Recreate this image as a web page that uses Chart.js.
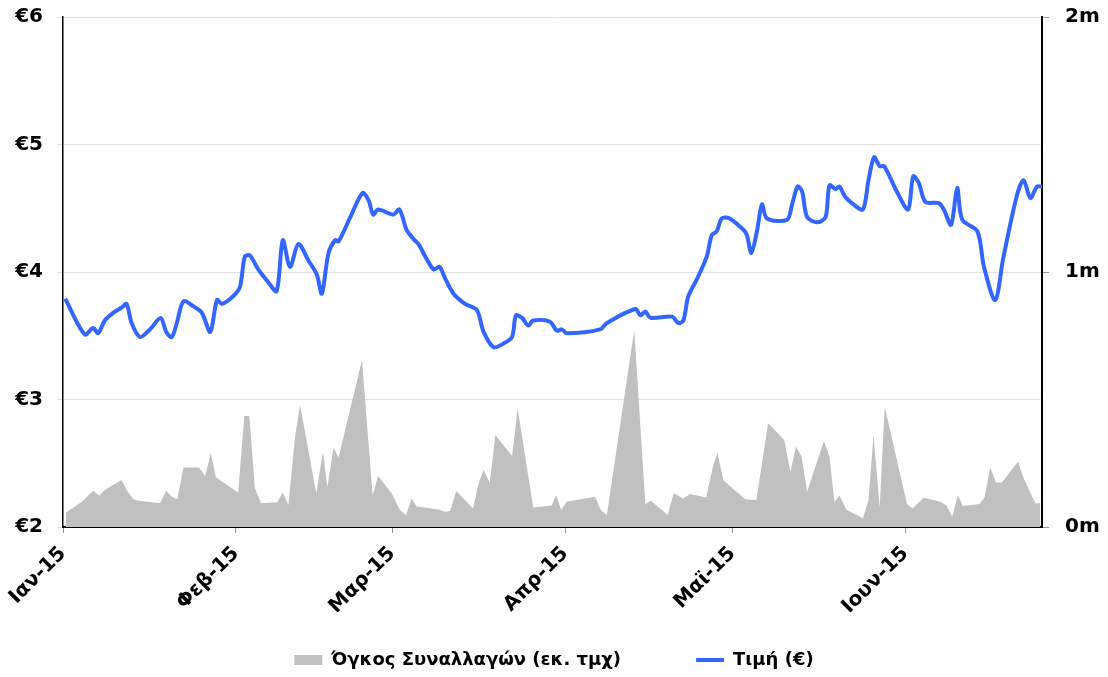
<!DOCTYPE html>
<html>
<head>
<meta charset="utf-8">
<style>
  html, body { margin: 0; padding: 0; background: #fff; }
</style>
</head>
<body>
<canvas id="chart" width="1108" height="677"></canvas>

<script src="https://cdn.jsdelivr.net/npm/chart.js"></script>
<script>

    // x values are days since 1 Jan 2015
    const monthDays = [0, 31, 59, 90, 120, 151];
    const monthLabels = ['Ιαν-15', 'Φεβ-15', 'Μαρ-15', 'Απρ-15', 'Μαϊ-15', 'Ιουν-15'];

    const priceDays = [0.4, 3.9, 5.4, 6.3, 7.5, 9.0, 10.5, 11.4, 12.3, 13.8, 15.6, 17.5, 18.5, 19.5, 20.4, 21.6, 23.4, 24.9, 26.4, 27.6,
        28.5, 30.5, 31.7, 32.6, 33.5, 35.0, 36.8, 38.3, 39.4, 40.7, 42.2, 44.0, 45.5, 46.4, 47.6, 48.8, 49.4, 51.5, 53.7, 54.8,
        55.6, 56.5, 59.2, 60.3, 61.6, 62.8, 63.7, 66.4, 67.5, 68.5, 70.0, 72.1, 74.2, 75.4, 77.2, 79.0, 80.5, 81.2, 82.3, 83.4,
        84.3, 87.3, 88.5, 89.4, 90.3, 96.3, 97.5, 102.6, 103.5, 104.4, 105.3, 109.2, 110.3, 111.2, 112.1, 113.6, 115.4, 116.3, 117.2, 118.1,
        119.5, 122.0, 122.6, 123.4, 124.4, 125.3, 126.2, 129.8, 130.7, 131.7, 132.5, 133.4, 135.2, 136.7, 137.4, 138.5, 139.2, 140.2, 141.7, 143.4,
        144.4, 145.4, 146.4, 147.2, 149.5, 151.5, 152.4, 153.4, 154.6, 157.0, 157.9, 159.2, 160.3, 161.2, 163.9, 165.1, 167.1, 168.6, 171.0, 172.2,
        173.4, 174.6, 175.5];
    const priceValues = [3.79, 3.51, 3.56, 3.52, 3.62, 3.68, 3.72, 3.75, 3.60, 3.49, 3.55, 3.64, 3.53, 3.49, 3.60, 3.77, 3.73, 3.68, 3.53, 3.78,
        3.75, 3.81, 3.88, 4.12, 4.13, 4.02, 3.92, 3.85, 4.25, 4.04, 4.22, 4.09, 3.98, 3.83, 4.15, 4.25, 4.24, 4.43, 4.62, 4.56,
        4.45, 4.49, 4.45, 4.49, 4.33, 4.26, 4.22, 4.02, 4.04, 3.95, 3.83, 3.75, 3.70, 3.53, 3.41, 3.44, 3.49, 3.66, 3.64, 3.58,
        3.62, 3.61, 3.54, 3.55, 3.52, 3.55, 3.60, 3.71, 3.66, 3.69, 3.64, 3.65, 3.60, 3.62, 3.81, 3.94, 4.12, 4.29, 4.32, 4.42,
        4.42, 4.33, 4.29, 4.15, 4.32, 4.53, 4.42, 4.41, 4.53, 4.67, 4.63, 4.43, 4.39, 4.43, 4.68, 4.65, 4.67, 4.59, 4.53, 4.49,
        4.72, 4.90, 4.83, 4.83, 4.63, 4.49, 4.75, 4.70, 4.55, 4.54, 4.49, 4.37, 4.66, 4.41, 4.32, 4.04, 3.78, 4.12, 4.60, 4.72,
        4.58, 4.67, 4.67];

    // volume in millions of shares
    const volumeDays = [0.5, 3.4, 5.4, 6.5, 7.5, 10.5, 11.4, 12.6, 13.5, 17.4, 18.5, 19.5, 20.5, 21.6, 24.4, 25.5, 26.5, 27.4, 28.5, 31.4,
        32.5, 33.4, 34.4, 35.5, 38.4, 39.4, 40.4, 41.6, 42.5, 45.4, 46.6, 47.4, 48.5, 49.4, 53.6, 55.5, 56.5, 58.9, 60.4, 61.5,
        62.5, 63.4, 67.3, 68.5, 69.4, 70.5, 73.5, 74.5, 75.4, 76.5, 77.5, 80.5, 81.5, 84.3, 87.6, 88.4, 89.3, 90.3, 95.4, 96.4,
        97.5, 102.4, 104.4, 105.4, 108.4, 109.5, 111.2, 112.4, 115.3, 116.5, 117.3, 118.4, 122.3, 124.3, 126.4, 129.3, 130.4, 131.4, 132.4, 133.4,
        136.4, 137.4, 138.3, 139.2, 140.4, 143.4, 144.4, 145.3, 146.4, 147.3, 151.3, 152.3, 154.3, 157.3, 158.4, 159.4, 160.4, 161.3, 164.3, 165.2,
        166.2, 167.3, 168.3, 171.2, 172.2, 174.3, 175.2];
    const volumeValues = [0.056, 0.099, 0.142, 0.123, 0.145, 0.184, 0.145, 0.109, 0.103, 0.093, 0.142, 0.119, 0.110, 0.233, 0.233, 0.200, 0.291, 0.195, 0.178, 0.135,
        0.435, 0.435, 0.152, 0.093, 0.097, 0.135, 0.086, 0.354, 0.478, 0.132, 0.295, 0.158, 0.312, 0.273, 0.655, 0.125, 0.200, 0.132, 0.067, 0.047,
        0.112, 0.080, 0.069, 0.060, 0.063, 0.141, 0.073, 0.171, 0.224, 0.174, 0.361, 0.278, 0.465, 0.076, 0.084, 0.125, 0.067, 0.099, 0.119, 0.067,
        0.047, 0.773, 0.089, 0.103, 0.047, 0.132, 0.112, 0.129, 0.116, 0.236, 0.291, 0.182, 0.109, 0.106, 0.407, 0.341, 0.217, 0.315, 0.276, 0.138,
        0.337, 0.276, 0.097, 0.125, 0.069, 0.034, 0.106, 0.361, 0.077, 0.472, 0.090, 0.073, 0.115, 0.099, 0.084, 0.040, 0.125, 0.082, 0.090, 0.116,
        0.233, 0.174, 0.175, 0.256, 0.191, 0.093, 0.093];

    const FONT = '"DejaVu Sans", Verdana, sans-serif';

    // legend padding gives the wide gap between the two items,
    // so fix the legend box height and move it up a bit after layout
    const legendPlace = {
        id: 'legendPlace',
        afterInit(chart) {
            const legend = chart.legend;
            const fit = legend.fit;
            legend.fit = function () {
                fit.call(this);
                this.height = 65;
            };
        },
        afterLayout(chart) {
            chart.legend.top = 576;
            chart.legend.bottom = 677;
        }
    };

    // fixed axis widths, no extra top padding from the tick labels
    function fitY(width) {
        return (scale) => {
            scale.width = width;
            scale.paddingTop = 0;
            scale.paddingBottom = 0;
        };
    }

    const chart = new Chart(document.getElementById('chart'), {
        type: 'line',
        data: {
            datasets: [{
                label: 'Όγκος Συναλλαγών (εκ. τμχ)',
                data: volumeDays.map((d, i) => ({ x: d, y: volumeValues[i] })),
                yAxisID: 'y1',
                fill: 'origin',
                backgroundColor: '#c0c0c0',
                borderColor: '#c0c0c0',
                borderWidth: 0,
                pointRadius: 0,
                pointStyle: 'rect',
                tension: 0,
                order: 1
            }, {
                label: 'Τιμή (€)',
                data: priceDays.map((d, i) => ({ x: d, y: priceValues[i] })),
                yAxisID: 'y',
                fill: false,
                borderColor: '#3366ff',
                backgroundColor: '#3366ff',
                borderWidth: 4,
                pointRadius: 0,
                pointStyle: 'line',
                tension: 0.3,
                order: 0
            }]
        },
        plugins: [legendPlace],
        options: {
            responsive: false,
            animation: false,
            layout: {
                padding: { top: 17, left: 0, right: 0, bottom: 0 }
            },
            plugins: {
                tooltip: { enabled: false },
                legend: {
                    position: 'bottom',
                    labels: {
                        usePointStyle: true,
                        pointStyleWidth: 28,
                        boxHeight: 10,
                        padding: 75,
                        color: '#000',
                        font: { family: FONT, size: 18, weight: 'bold' },
                        sort: (a, b) => a.datasetIndex - b.datasetIndex
                    }
                }
            },
            scales: {
                x: {
                    type: 'linear',
                    min: 0,
                    max: 175.5,
                    afterBuildTicks: (scale) => {
                        scale.ticks = monthDays.map(v => ({ value: v }));
                    },
                    afterFit: (scale) => { scale.height = 85; },
                    ticks: {
                        autoSkip: false,
                        minRotation: 45,
                        maxRotation: 45,
                        color: '#000',
                        padding: 9,
                        font: { family: FONT, size: 20, weight: 'bold' },
                        callback: (value) => monthLabels[monthDays.indexOf(value)]
                    },
                    grid: { drawOnChartArea: false, tickLength: 6, color: '#999' },
                    border: { color: '#000', width: 2 }
                },
                y: {
                    position: 'left',
                    min: 2,
                    max: 6,
                    afterFit: fitY(63),
                    ticks: {
                        stepSize: 1,
                        color: '#000',
                        padding: 14,
                        font: { family: FONT, size: 20, weight: 'bold' },
                        callback: (value) => '€' + value
                    },
                    grid: { color: '#e0e0e0', tickLength: 6 },
                    border: { color: '#000', width: 1.5 }
                },
                y1: {
                    position: 'right',
                    min: 0,
                    max: 2,
                    afterFit: fitY(66),
                    ticks: {
                        stepSize: 1,
                        color: '#000',
                        padding: 16,
                        font: { family: FONT, size: 20, weight: 'bold' },
                        callback: (value) => value + 'm'
                    },
                    grid: { drawOnChartArea: false, tickLength: 7, color: '#999' },
                    border: { color: '#000', width: 2 }
                }
            }
        }
    });
</script>
</body>
</html>
